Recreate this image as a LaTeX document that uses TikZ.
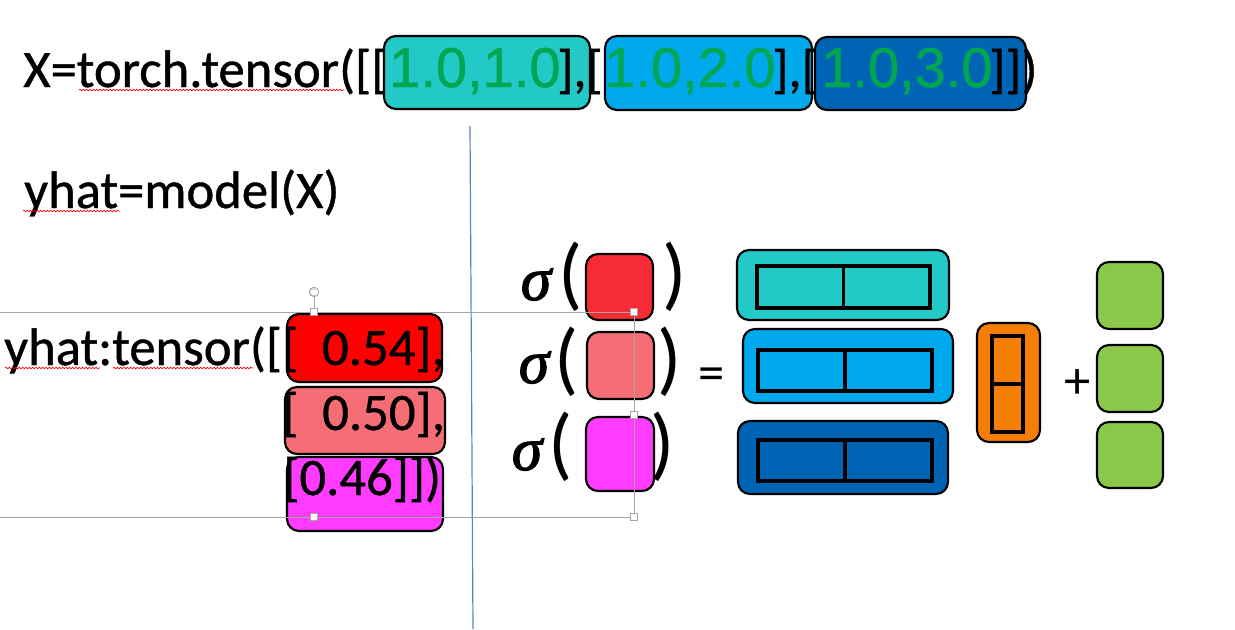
\documentclass[tikz,border=0pt]{standalone}
\usepackage{fontspec}
\setmainfont{Carlito}
\newfontfamily\codefamily{Carlito}[FakeBold=0.8]
\newfontfamily\arialfamily{Liberation Sans}[FakeBold=0.8]
\newfontfamily\greekfamily{Liberation Serif}[FakeBold=2]
\usepackage{xcolor}
\usetikzlibrary{fit, decorations.pathmorphing}

\definecolor{xteal}{HTML}{22C9C6}
\definecolor{xblue}{HTML}{00A9EB}
\definecolor{xnavy}{HTML}{0064B5}
\definecolor{numgreen}{HTML}{00A651}
\definecolor{yred}{HTML}{FF0000}
\definecolor{sred}{HTML}{F72B35}
\definecolor{ysalmon}{HTML}{F56E76}
\definecolor{ymagenta}{HTML}{FF3BFF}
\definecolor{borange}{HTML}{F57F06}
\definecolor{bgreen}{HTML}{8BC84A}
\definecolor{uigray}{HTML}{A6A6A6}
\definecolor{uiblue}{HTML}{5B7FCC}

\tikzset{
  code/.style={inner sep=0pt, anchor=base west, font=\codefamily\fontsize{39.5pt}{44pt}\selectfont},
  nums/.style={inner sep=0pt, anchor=base west, text=numgreen, font=\arialfamily\fontsize{42pt}{46pt}\selectfont},
  sig/.style={inner sep=0pt, anchor=base, font=\greekfamily\itshape\fontsize{46pt}{50pt}\selectfont},
  paren/.style={inner sep=0pt, anchor=base, font=\fontsize{60pt}{64pt}\selectfont},
  oper/.style={inner sep=0pt, anchor=base, font=\fontsize{39.5pt}{44pt}\selectfont},
  cell/.style={draw=black, line width=1.6pt, rounded corners=9pt, inner sep=0pt},
  slot/.style={draw=black, line width=2.6pt, inner sep=0pt},
  squiggle/.style={red, line width=0.5pt, decorate, decoration={snake, amplitude=0.6pt, segment length=2.5pt}},
  uiline/.style={uigray, line width=0.6pt},
  handle/.style={draw=uigray, fill=white, line width=0.5pt, minimum size=5.5pt, inner sep=0pt}
}

\begin{document}
\begin{tikzpicture}[x=0.75pt, y=-0.75pt]
    \useasboundingbox (0,0) rectangle (1235,629);

    % Input rows
    \node[cell, fill=xteal, fit={(384,36) (590,109)}] (xboxA) {};
    \node[cell, fill=xblue, fit={(605,36) (812,110)}] (xboxB) {};
    \node[cell, fill=xnavy, fit={(815,37) (1026,110)}] (xboxC) {};
    \node[code] (xline) at (23,87) {X=torch.tensor([[};
    \node[nums] (xnumA) at (389,87) {1.0,1.0};
    \node[code] (xsepA) at (557,87) {],[};
    \node[nums] (xnumB) at (604,87) {1.0,2.0};
    \node[code] (xsepB) at (772,87) {],[};
    \node[nums] (xnumC) at (821,87) {1.0,3.0};
    \node[code] (xend) at (989,87) {]])};

    % Model call
    \node[code] (yline) at (24,208) {yhat=model(X)};

    % Output tensor
    \node[cell, fill=yred, fit={(287,314) (442,382)}] (yboxA) {};
    \node[cell, fill=ysalmon, fit={(285,387) (445,454)}] (yboxB) {};
    \node[cell, fill=ymagenta, fit={(287,457) (443,531)}] (yboxC) {};
    \node[code] (youtA) at (4,365) {yhat:tensor([[\ \ 0.54],};
    \node[code] (youtB) at (282,430) {[\ \ 0.50],};
    \node[code] (youtC) at (283,495) {[0.46]])};

    % Spell check marks
    \draw[squiggle] (79,90) -- (344,90);
    \draw[squiggle] (23,211) -- (120,211);
    \draw[squiggle] (5,368) -- (100,368);
    \draw[squiggle] (113,368) -- (253,368);

    % Sigmoid rows
    \node[sig] (sigA) at (536,300) {σ};
    \node[paren] (lpA) at (571,300) {(};
    \node[cell, fill=sred, fit={(586,254) (653,320)}] (sqA) {};
    \node[paren] (rpA) at (675,300) {)};
    \node[sig] (sigB) at (534,383) {σ};
    \node[paren] (lpB) at (567,385) {(};
    \node[cell, fill=ysalmon, fit={(587,332) (654,399)}] (sqB) {};
    \node[paren] (rpB) at (670,385) {)};
    \node[sig] (sigC) at (527,470) {σ};
    \node[paren] (lpC) at (561,470) {(};
    \node[cell, fill=ymagenta, fit={(586,417) (654,491)}] (sqC) {};
    \node[paren] (rpC) at (663,470) {)};
    \node[oper] (eq) at (712,390) {=};

    % Feature rows
    \node[cell, fill=xteal, fit={(737,250) (949,320)}] (wA) {};
    \node[slot, fit={(757,266) (930,308)}] (slotA) {};
    \draw[slot] (slotA.north) -- (slotA.south);
    \node[cell, fill=xblue, fit={(743,329) (953,403)}] (wB) {};
    \node[slot, fit={(758,350) (932,391)}] (slotB) {};
    \draw[slot] (slotB.north) -- (slotB.south);
    \node[cell, fill=xnavy, fit={(738,421) (948,494)}] (wC) {};
    \node[slot, fit={(758,440) (932,481)}] (slotC) {};
    \draw[slot] (slotC.north) -- (slotC.south);

    % Weights
    \node[cell, fill=borange, fit={(977,323) (1040,442)}] (wbox) {};
    \node[slot, fit={(992,336) (1023,432)}] (wslot) {};
    \draw[slot] (wslot.west) -- (wslot.east);
    \node[oper] (plus) at (1078,398) {+};

    % Bias
    \node[cell, fill=bgreen, fit={(1097,262) (1163,329)}] (bA) {};
    \node[cell, fill=bgreen, fit={(1097,345) (1163,412)}] (bB) {};
    \node[cell, fill=bgreen, fit={(1097,422) (1163,488)}] (bC) {};

    % Selection frame
    \draw[uiblue, line width=0.9pt] (470,126) -- (473,629);
    \draw[uiline] (0,312) -- (634,312);
    \draw[uiline] (0,517) -- (634,517);
    \draw[uiline] (634,312) -- (634,517);
    \draw[uiline] (314,297) -- (314,312);
    \draw[uiline] (314,292) circle (3.6pt);
    \draw[uiline, line width=0.4pt] (316,290) arc (40:320:2.7pt);
    \node[handle] (hA) at (314,312) {};
    \node[handle] (hB) at (634,312) {};
    \node[handle] (hC) at (634,415) {};
    \node[handle] (hD) at (314,517) {};
    \node[handle] (hE) at (634,517) {};
\end{tikzpicture}
\end{document}
